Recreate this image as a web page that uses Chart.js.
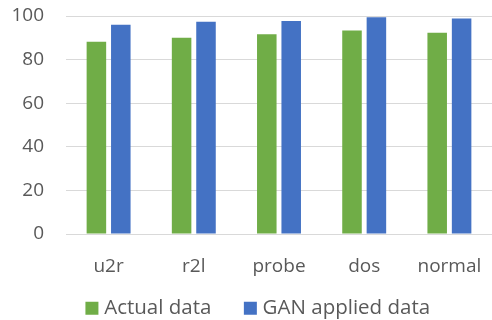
<!DOCTYPE html>
<html>
<head>
<meta charset="utf-8">
<script src="https://cdn.jsdelivr.net/npm/chart.js@4/dist/chart.umd.min.js"></script>
<style>
html,body{margin:0;padding:0;background:#fff;}
#wrap{width:492px;height:320px;position:relative;}
</style>
</head>
<body>
<div id="wrap"><canvas id="c" width="492" height="320"></canvas></div>
<script>
const categories = ["u2r", "r2l", "probe", "dos", "normal"];
const actualData = [88.2, 90.0, 91.6, 93.3, 92.3];
const ganData = [96.0, 97.4, 97.7, 99.4, 98.9];
const yTicks = [0, 20, 40, 60, 80, 100];

const FONT = "'Open Sans', 'Noto Sans', sans-serif";
const TEXT = "#595959";
const LEGEND_DX = 14;
const LEGEND_DY = -18;

const legendShift = {
  id: 'legendShift',
  afterLayout(chart) {
    const l = chart.legend;
    if (!l) return;
    l.left += LEGEND_DX; l.right += LEGEND_DX;
    l.top += LEGEND_DY;
  }
};

new Chart(document.getElementById('c'), {
  type: 'bar',
  data: {
    labels: categories,
    datasets: [
      { label: 'Actual data', data: actualData, backgroundColor: '#70AD47', categoryPercentage: 0.573, barPercentage: 0.8 },
      { label: 'GAN applied data', data: ganData, backgroundColor: '#4472C4', categoryPercentage: 0.573, barPercentage: 0.8 }
    ]
  },
  plugins: [legendShift],
  options: {
    responsive: false,
    animation: false,
    devicePixelRatio: 1,
    layout: { padding: { top: 16, right: 0, left: 0, bottom: 0 } },
    plugins: {
      tooltip: { enabled: false },
      legend: {
        position: 'bottom',
        maxHeight: 41,
        labels: {
          color: TEXT,
          font: { family: FONT, size: 20.5 },
          usePointStyle: true,
          pointStyle: 'rect',
          boxWidth: 4,
          boxHeight: 13,
          padding: 37
        }
      }
    },
    scales: {
      x: {
        grid: { display: false, drawTicks: false },
        border: { display: true, color: '#d9d9d9', width: 1 },
        ticks: { color: TEXT, font: { family: FONT, size: 19 }, padding: 21 },
        afterFit(s) { s.height = 45; s.paddingLeft = 0; s.paddingRight = 0; }
      },
      y: {
        min: 0, max: 100,
        afterBuildTicks(s) { s.ticks = yTicks.map(v => ({ value: v })); },
        grid: { color: '#d9d9d9', drawTicks: false, lineWidth: 1 },
        border: { display: false },
        ticks: { color: TEXT, font: { family: FONT, size: 19 }, padding: 22 },
        afterFit(s) { s.width = 66; s.paddingTop = 0; s.paddingBottom = 0; }
      }
    }
  }
});
</script>
</body>
</html>
